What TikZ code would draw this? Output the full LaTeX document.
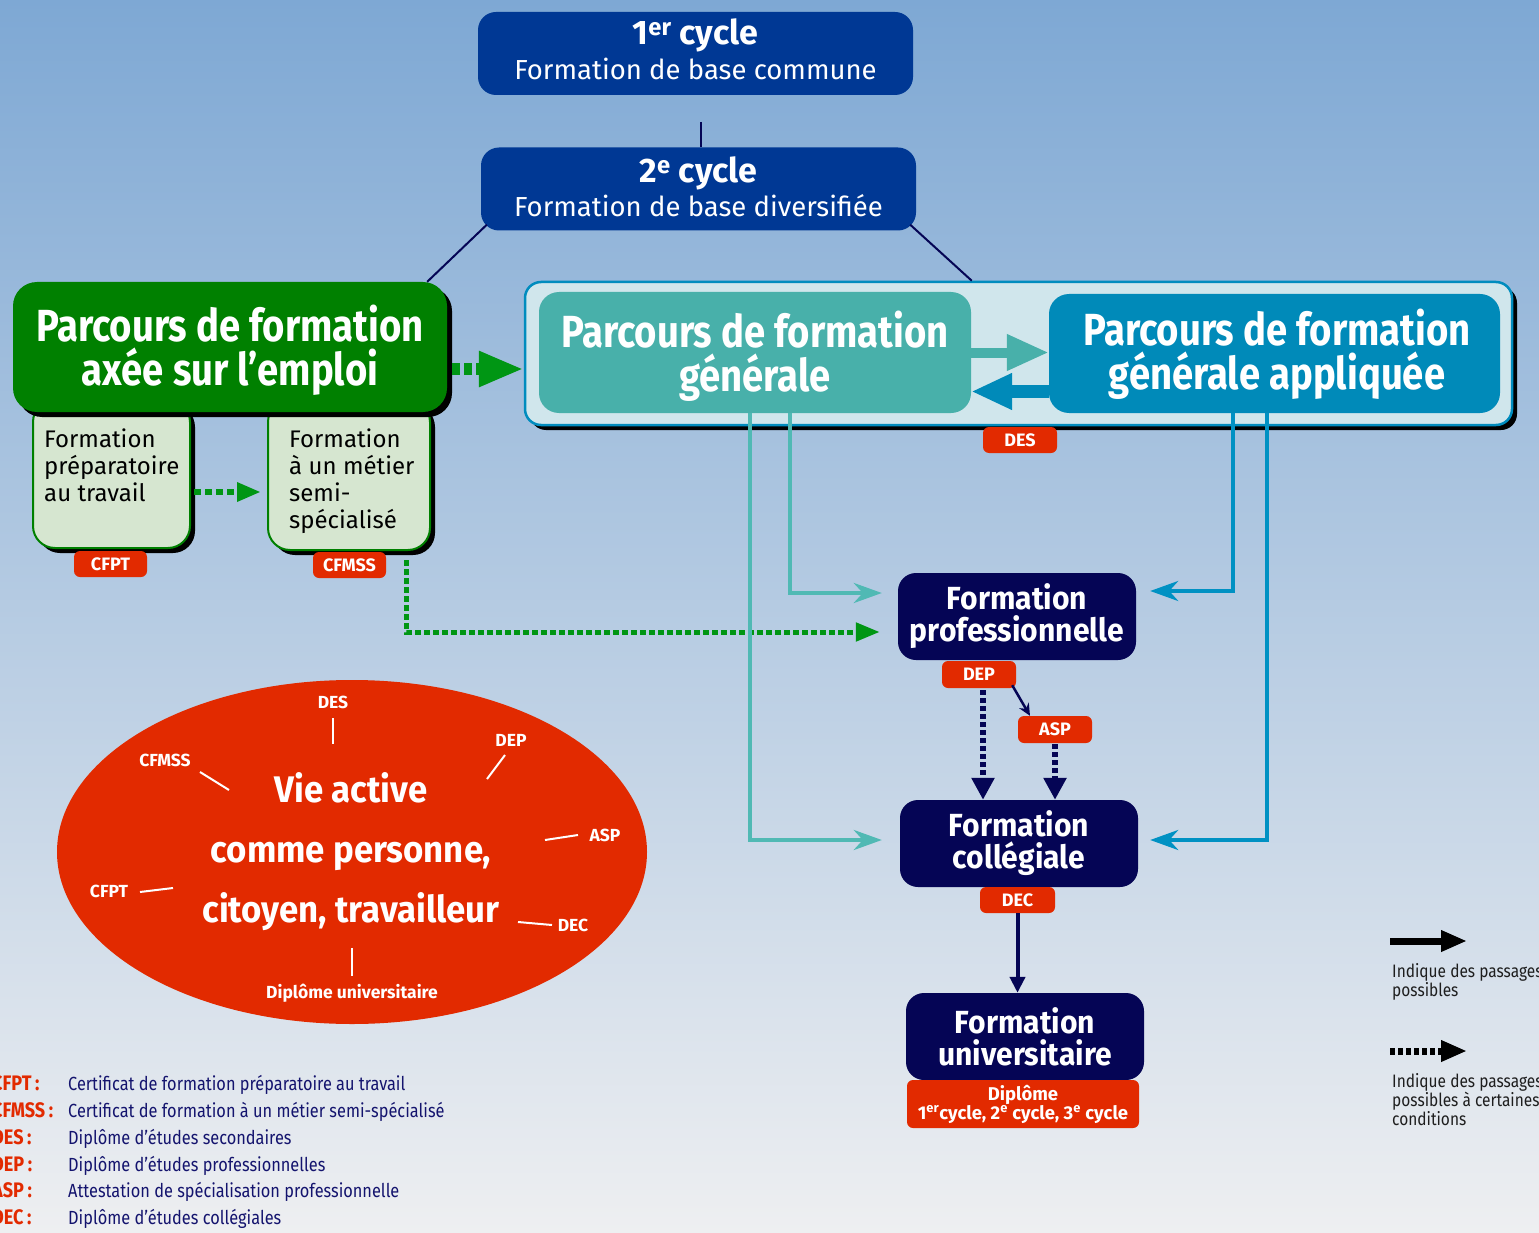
\documentclass[tikz,border=0pt]{standalone}
\usepackage{fontspec}
\setmainfont{Fira Sans}
\newfontfamily\cond[FakeStretch=0.85]{Fira Sans}
\newfontfamily\cnav[FakeStretch=0.94]{Fira Sans}
\newfontfamily\xcond[FakeStretch=0.86]{Fira Sans}
\usetikzlibrary{arrows.meta,shadows,shapes.geometric}
\newcommand\fsz[2]{\fontsize{#1}{#2}\selectfont}
\definecolor{bgtop}{RGB}{126,168,212}
\definecolor{bgmid}{RGB}{182,204,228}
\definecolor{bgbot}{RGB}{238,239,241}
\definecolor{navyA}{RGB}{0,56,148}
\definecolor{navyB}{RGB}{5,5,85}
\definecolor{grn}{RGB}{0,128,0}
\definecolor{grnL}{RGB}{214,230,208}
\definecolor{arrgrn}{RGB}{0,150,20}
\definecolor{tealA}{RGB}{72,176,170}
\definecolor{bluA}{RGB}{0,138,185}
\definecolor{contF}{RGB}{208,230,236}
\definecolor{contD}{RGB}{0,140,190}
\definecolor{redT}{RGB}{226,42,0}
\definecolor{tealL}{RGB}{80,185,180}
\definecolor{bluL}{RGB}{0,145,195}
\definecolor{legN}{RGB}{20,20,110}
\definecolor{legK}{RGB}{30,30,30}
\begin{document}
\begin{tikzpicture}[x=1pt,y=-1pt,
  shad/.style={drop shadow={shadow xshift=5pt,shadow yshift=-5pt,fill=black,opacity=1}},
  topbox/.style={rounded corners=18pt,fill=navyA,inner sep=0pt,minimum width=435pt,minimum height=83pt},
  toptext/.style={text=white,align=center,inner sep=0pt},
  navybox/.style={rounded corners=18pt,fill=navyB,text=white,align=center,inner sep=0pt,font=\cnav\bfseries\fsz{32}{32},minimum width=238pt,minimum height=87pt},
  title/.style={text=white,align=center,inner sep=0pt,font=\cond\bfseries\fsz{45}{44}},
  subbox/.style={rounded corners=22pt,fill=grnL,draw=grn,line width=2pt,shad},
  subtext/.style={anchor=north west,align=left,inner sep=0pt,font=\fsz{24}{27}},
  tag/.style={fill=redT,rounded corners=6pt,text=white,inner sep=0pt,minimum height=26pt,font=\bfseries\fsz{18}{18}},
  conn/.style={draw=navyB,line width=2pt},
  tealarr/.style={draw=tealL,line width=4pt,-{Stealth[length=28pt,width=20pt,inset=9pt]}},
  bluarr/.style={draw=bluL,line width=4pt,-{Stealth[length=28pt,width=20pt,inset=9pt]}},
  navyarr/.style={draw=navyB,line width=6pt,dash pattern=on 5pt off 3pt,-{Triangle[length=22pt,width=22pt]}},
  elab/.style={text=white,inner sep=0pt,font=\bfseries\fsz{17.5}{17.5}},
  tick/.style={draw=white,line width=2pt},
  legab/.style={anchor=base west,text=redT,inner sep=0pt,font=\xcond\bfseries\fsz{21}{21}},
  legtx/.style={anchor=base west,text=legN,inner sep=0pt,font=\xcond\fsz{19}{19}},
  legtxt/.style={anchor=north west,align=left,text=legK,inner sep=0pt,font=\xcond\fsz{18}{19}}
]
\useasboundingbox (0,0) rectangle (1539,1233);
\clip (0,0) rectangle (1539,1233);
\shade[top color=bgtop,middle color=bgmid,bottom color=bgbot] (0,0) rectangle (1539,1233);

% top cycles
\node[topbox] (c1) at (695.5,53.5) {};
\node[toptext] (c1t) at (695.5,49) {\bfseries\fsz{34}{34}1\textsuperscript{er} cycle\\[5pt]\fsz{27.5}{34}Formation de base commune};
\node[topbox] (c2) at (698.5,189) {};
\node[toptext] (c2t) at (698.5,186.5) {\bfseries\fsz{34}{34}2\textsuperscript{e} cycle\\[3pt]\fsz{27.5}{34}Formation de base diversifiée};
\coordinate (stub) at (701,122);
\draw[conn] (stub) -- (stub |- c2.north);

% green pathway
\node[subbox,minimum width=157pt,minimum height=148pt] (subA) at (111.5,474) {};
\node[subbox,minimum width=162pt,minimum height=150pt] (subB) at (349,475) {};
\node[rounded corners=24pt,fill=grn,shad,minimum width=434pt,minimum height=130pt] (gbox) at (230,347) {};
\node[title] (gtitle) at (230,350) {Parcours de formation\\axée sur l’emploi};
\node[subtext] (tA) at (44,429) {Formation\\préparatoire\\au travail};
\node[subtext] (tB) at (289,429) {Formation\\à un métier\\semi-\\spécialisé};
\node[tag,minimum width=73pt] (cfpt) at (110.5,564) {CFPT};
\node[tag,minimum width=73pt] (cfmss) at (349.5,565) {CFMSS};

% general pathways container
\node[rounded corners=16pt,fill=contF,draw=contD,line width=2.5pt,shad,minimum width=987pt,minimum height=143pt] (cont) at (1018.5,353.5) {};
\node[rounded corners=20pt,fill=tealA,minimum width=432pt,minimum height=121pt] (pg) at (755,352.5) {};
\node[title] (pgt) at (755,356) {Parcours de formation\\générale};
\node[rounded corners=20pt,fill=bluA,minimum width=451pt,minimum height=119pt] (pga) at (1274.5,353.5) {};
\node[title] (pgat) at (1277,354) {Parcours de formation\\générale appliquée};
\node[tag,minimum width=74pt] (des) at (1020,440) {DES};

% lines from 2e cycle
\draw[conn] ([xshift=6pt,yshift=6pt]c2.south west) -- ([xshift=-20pt]gbox.north east);
\draw[conn] ([xshift=-6pt,yshift=6pt]c2.south east) -- ([xshift=448pt]cont.north west);

% arrows between pathways
\draw[draw=tealA,line width=10pt,-{Triangle[length=42pt,width=34pt]}] (pg.east) -- (pg.east -| pga.west);
\draw[draw=bluA,line width=13pt,-{Triangle[length=41pt,width=34pt]}] ([yshift=-38pt]pga.west) -- ([yshift=-38pt]pga.west -| pg.east);

% green dotted arrows
\draw[draw=arrgrn,line width=12pt,dash pattern=on 8pt off 4pt,shorten <=5pt,-{Triangle[length=45pt,width=33pt]}] ([yshift=-22pt]gbox.east) -- ([yshift=-22pt]gbox.east -| cont.west);
\draw[draw=arrgrn,line width=6pt,dash pattern=on 7pt off 4pt,shorten <=3pt,shorten >=6pt,-{Triangle[length=24pt,width=18pt]}] ([yshift=-18pt]subA.east) -- ([yshift=-18pt]subA.east -| subB.west);

% lower boxes
\node[navybox] (fp) at (1017,616.5) {Formation\\professionnelle};
\node[navybox] (fc) at (1019,843.5) {Formation\\collégiale};
\node[navybox] (fu) at (1025,1036.5) {Formation\\universitaire};
\node[tag,minimum width=74pt,minimum height=27pt] (dep) at (979,674.5) {DEP};
\node[tag,minimum width=74pt,minimum height=27pt] (asp) at (1055,729.5) {ASP};
\node[tag,minimum width=75pt] (dec) at (1017.5,900) {DEC};
\node[tag,minimum width=232pt,minimum height=48pt,align=center,font=\bfseries\fsz{18.5}{19}] (dipu) at (1023,1104) {Diplôme\\1\textsuperscript{er}cycle, 2\textsuperscript{e} cycle, 3\textsuperscript{e} cycle};

\draw[draw=arrgrn,line width=5pt,dash pattern=on 6pt off 3pt,shorten >=18pt,-{Triangle[length=24pt,width=18pt]}] ([xshift=20pt,yshift=5pt]cfmss.east) |- ([yshift=-15.5pt]fp.west);

% teal and blue connectors
\draw[tealarr,shorten >=18pt] ([xshift=-5pt]pg.south) |- ([yshift=3.5pt]fc.west);
\draw[tealarr,shorten >=16pt] ([xshift=35pt]pg.south) |- ([yshift=23.5pt]fp.west);
\draw[bluarr,shorten >=14pt] ([xshift=-41.5pt]pga.south) |- ([yshift=25.5pt]fp.east);
\draw[bluarr,shorten >=12pt] ([xshift=-7.5pt]pga.south) |- ([yshift=3.5pt]fc.east);

% navy arrows
\draw[draw=navyB,line width=2.5pt,-{Stealth[length=12pt,width=11pt]}] ([xshift=-4pt,yshift=3pt]dep.south east) -- ([xshift=-25pt]asp.north);
\draw[navyarr] ([xshift=4pt,yshift=-2pt]dep.south) -- ([xshift=4pt]dep.south |- fc.north);
\draw[navyarr] ([yshift=-1pt]asp.south) -- (asp.south |- fc.north);
\draw[draw=navyB,line width=4pt,-{Triangle[length=16pt,width=15pt]}] (dec.south) -- (dec.south |- fu.north);

% ellipse
\node[ellipse,fill=redT,minimum width=590pt,minimum height=344pt,inner sep=0pt] (vie) at (352,852) {};
\node[text=white,align=center,inner sep=0pt,font=\cnav\bfseries\fsz{37}{60}] (viet) at (351,852) {Vie active\\comme personne,\\citoyen, travailleur};
\node[elab] (eDES) at (333,702) {DES};
\node[elab] (eDEP) at (511,740) {DEP};
\node[elab] (eCFMSS) at (165,760) {CFMSS};
\node[elab] (eASP) at (605,835) {ASP};
\node[elab] (eCFPT) at (109,891) {CFPT};
\node[elab] (eDEC) at (573,925) {DEC};
\node[elab] (eDU) at (352,993) {Diplôme universitaire};
\draw[tick] (333,718) -- (333,744);
\draw[tick] (505,755) -- (487,779);
\draw[tick] (200,772) -- (229,790);
\draw[tick] (578,835) -- (545,840);
\draw[tick] (140,892) -- (173,888);
\draw[tick] (552,925) -- (518,922);
\draw[tick] (352,976) -- (352,948);

% bottom-left legend
\foreach \ab/\tx/\yy [count=\i] in {CFPT/Certificat de formation préparatoire au travail/1090,
  CFMSS/Certificat de formation à un métier semi-spécialisé/1117,
  DES/Diplôme d’études secondaires/1144,
  DEP/Diplôme d’études professionnelles/1171,
  ASP/Attestation de spécialisation professionnelle/1197,
  DEC/Diplôme d’études collégiales/1224}{
  \node[legab] (la\i) at (-8,\yy) {\ab\,:};
  \node[legtx] (lt\i) at (68,\yy) {\tx};
}

% right legend
\coordinate (ra1) at (1390,941);
\coordinate (ra2) at (1467,941);
\draw[draw=black,line width=7pt,-{Triangle[length=26pt,width=20pt]}] (ra1) -- (ra2);
\node[legtxt] (rl1) at (1392,963) {Indique des passages\\possibles};
\coordinate (rb1) at (1390,1051);
\coordinate (rb2) at (1467,1051);
\draw[draw=black,line width=7pt,dash pattern=on 5pt off 3pt,-{Triangle[length=26pt,width=20pt]}] (rb1) -- (rb2);
\node[legtxt] (rl2) at (1392,1073) {Indique des passages\\possibles à certaines\\conditions};
\end{tikzpicture}
\end{document}
